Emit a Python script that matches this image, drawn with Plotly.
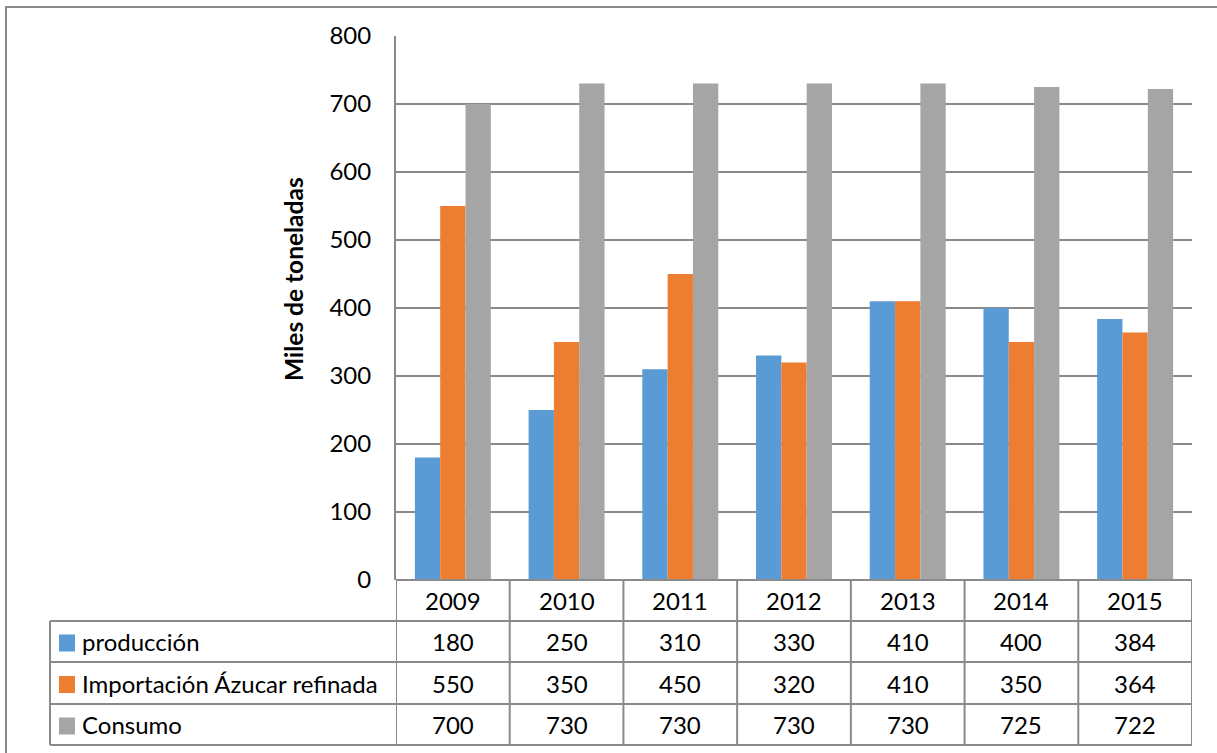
import plotly.graph_objects as go

# Datos
years = ["2009", "2010", "2011", "2012", "2013", "2014", "2015"]
produccion = [180, 250, 310, 330, 410, 400, 384]
importacion = [550, 350, 450, 320, 410, 350, 364]
consumo = [700, 730, 730, 730, 730, 725, 722]
series_names = ["producción", "Importación Ázucar refinada", "Consumo"]
series_colors = ["#5B9BD5", "#ED7D31", "#A5A5A5"]
y_ticks = [0, 100, 200, 300, 400, 500, 600, 700, 800]

W, H = 1217, 753
L, R, T, B = 396, 1192, 36, 580  # plot area in pixels
LINE = "#8A8A8A"
FONT = "Lato"
FS = 24


def px(x):
    return (x - L) / (R - L)


def py(y):
    return (B - y) / (B - T)


fig = go.Figure()
for name, vals, col in zip(series_names, [produccion, importacion, consumo], series_colors):
    fig.add_trace(go.Bar(x=years, y=vals, name=name, marker=dict(color=col, line=dict(width=0))))

shapes = []
annotations = []

# outer chart border
shapes.append(dict(type="rect", xref="paper", yref="paper",
                   x0=px(6), x1=px(1225), y0=py(7), y1=py(760),
                   line=dict(color=LINE, width=2), layer="below"))

# data table grid
row_lines = [580, 621, 662, 704, 745]
tbl_left = 50
n = len(years)
shapes.append(dict(type="line", xref="x", yref="paper", x0=-0.5, x1=n - 0.5,
                   y0=py(row_lines[0]), y1=py(row_lines[0]), line=dict(color=LINE, width=2)))
for yl in row_lines[1:]:
    shapes.append(dict(type="line", xref="paper", yref="paper", x0=px(tbl_left), x1=1,
                       y0=py(yl), y1=py(yl), line=dict(color=LINE, width=2)))
for k in range(n + 1):
    shapes.append(dict(type="line", xref="x", yref="paper", x0=k - 0.5, x1=k - 0.5,
                       y0=py(row_lines[0]), y1=py(row_lines[-1]), line=dict(color=LINE, width=2)))
shapes.append(dict(type="line", xref="paper", yref="paper", x0=px(tbl_left), x1=px(tbl_left),
                   y0=py(row_lines[1]), y1=py(row_lines[-1]), line=dict(color=LINE, width=2)))

# header row: years
hdr_c = (row_lines[0] + row_lines[1]) / 2
for i, yr in enumerate(years):
    annotations.append(dict(x=i, y=py(hdr_c), xref="x", yref="paper", text=yr, showarrow=False,
                            font=dict(family=FONT, size=FS, color="#000000"),
                            xanchor="center", yanchor="middle"))

# series rows: legend key, name, values
for r, (name, vals, col) in enumerate(zip(series_names, [produccion, importacion, consumo], series_colors)):
    top, bot = row_lines[r + 1], row_lines[r + 2]
    c = (top + bot) / 2
    shapes.append(dict(type="rect", xref="paper", yref="paper",
                       x0=px(59), x1=px(75), y0=py(c - 7), y1=py(c + 10),
                       fillcolor=col, line=dict(width=0)))
    annotations.append(dict(x=px(80), y=py(c), xref="paper", yref="paper", text=name, showarrow=False,
                            font=dict(family=FONT, size=FS, color="#000000"),
                            xanchor="left", yanchor="middle"))
    for i, v in enumerate(vals):
        annotations.append(dict(x=i, y=py(c), xref="x", yref="paper", text=str(v), showarrow=False,
                                font=dict(family=FONT, size=FS, color="#000000"),
                                xanchor="center", yanchor="middle"))

# y-axis title
annotations.append(dict(x=px(293), y=py(279), xref="paper", yref="paper", text="<b>Miles de toneladas</b>",
                        showarrow=False, textangle=-90,
                        font=dict(family=FONT, size=24.5, color="#000000"),
                        xanchor="center", yanchor="middle"))

fig.update_layout(
    width=W, height=H,
    margin=dict(l=L, r=W - R, t=T, b=H - B, pad=0),
    paper_bgcolor="white", plot_bgcolor="white",
    barmode="group", bargap=0.332, bargroupgap=0,
    showlegend=False,
    shapes=shapes, annotations=annotations,
    xaxis=dict(range=[-0.5, n - 0.5], showticklabels=False, showgrid=False, zeroline=False,
               showline=False, ticks=""),
    yaxis=dict(range=[0, 800], tickvals=y_ticks, showgrid=True, gridcolor=LINE, gridwidth=2,
               zeroline=False, showline=True, linecolor=LINE, linewidth=2,
               ticks="", ticklabelstandoff=18,
               tickfont=dict(family=FONT, size=FS, color="#000000")),
    font=dict(family=FONT),
)

fig.write_html("out.html")
